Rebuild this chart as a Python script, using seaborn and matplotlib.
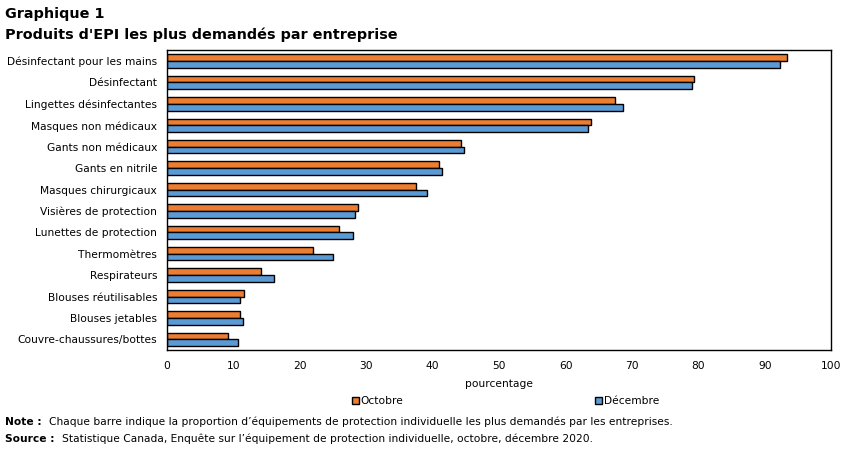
import pandas as pd
import seaborn as sns
import matplotlib.pyplot as plt

# Data (percent)
categories = [
    "Désinfectant pour les mains",
    "Désinfectant",
    "Lingettes désinfectantes",
    "Masques non médicaux",
    "Gants non médicaux",
    "Gants en nitrile",
    "Masques chirurgicaux",
    "Visières de protection",
    "Lunettes de protection",
    "Thermomètres",
    "Respirateurs",
    "Blouses réutilisables",
    "Blouses jetables",
    "Couvre-chaussures/bottes",
]
octobre = [93.3, 79.3, 67.4, 63.9, 44.2, 41.0, 37.5, 28.8, 25.9, 22.0, 14.2, 11.6, 11.0, 9.2]
decembre = [92.2, 79.0, 68.6, 63.3, 44.7, 41.4, 39.1, 28.3, 28.0, 25.0, 16.2, 11.0, 11.5, 10.7]
series = ["Octobre", "Décembre"]
x_ticks = [0, 10, 20, 30, 40, 50, 60, 70, 80, 90, 100]


def main():

    # Long format for seaborn
    df = pd.DataFrame({
        "produit": categories * 2,
        "valeur": octobre + decembre,
        "periode": [series[0]] * len(categories) + [series[1]] * len(categories),
    })

    sns.set_style("white")
    plt.rcParams["font.family"] = ["DejaVu Sans"]
    plt.rcParams["text.color"] = "black"

    fig = plt.figure(figsize=(8.51, 4.54), dpi=100)
    ax = fig.add_axes([0.196, 0.229, 0.781, 0.66])

    sns.barplot(
        data=df, y="produit", x="valeur", hue="periode", orient="h",
        palette=["#ED7D31", "#5B9BD5"], saturation=1, width=0.62, gap=0,
        edgecolor="black", linewidth=1, ax=ax, legend=True,
    )

    ax.set_xlim(0, 100)
    ax.set_xticks(x_ticks)
    ax.tick_params(axis="both", length=0, labelsize=7.7, colors="black")
    ax.tick_params(axis="x", pad=8)
    ax.tick_params(axis="y", pad=7)
    ax.set_ylabel("")
    ax.set_xlabel("pourcentage", fontsize=7.7, labelpad=6, color="black")
    for s in ax.spines.values():
        s.set_visible(True)
        s.set_color("black")
        s.set_linewidth(1)

    # Legend below the axis label
    handles, labels = ax.get_legend_handles_labels()
    ax.get_legend().remove()
    fig.legend(
        handles, labels, loc="center", bbox_to_anchor=(0.594, 0.117), ncol=2,
        frameon=False, fontsize=7.7, handlelength=0.6, handleheight=0.6,
        handletextpad=0.15, columnspacing=18,
    )

    fig.text(0.006, 0.985, "Graphique 1", fontsize=10.4, fontweight="bold", va="top")
    fig.text(0.006, 0.94, "Produits d'EPI les plus demandés par entreprise",
             fontsize=10.4, fontweight="bold", va="top")
    fig.text(0.006, 0.07, "Note :", fontsize=7.7, fontweight="bold", va="center")
    fig.text(0.057, 0.07, "Chaque barre indique la proportion d’équipements de protection "
             "individuelle les plus demandés par les entreprises.", fontsize=7.7, va="center")
    fig.text(0.006, 0.034, "Source :", fontsize=7.7, fontweight="bold", va="center")
    fig.text(0.073, 0.034, "Statistique Canada, Enquête sur l’équipement de protection "
             "individuelle, octobre, décembre 2020.", fontsize=7.7, va="center")

    fig.savefig("out.png", dpi=100)


if __name__ == "__main__":

    main()
